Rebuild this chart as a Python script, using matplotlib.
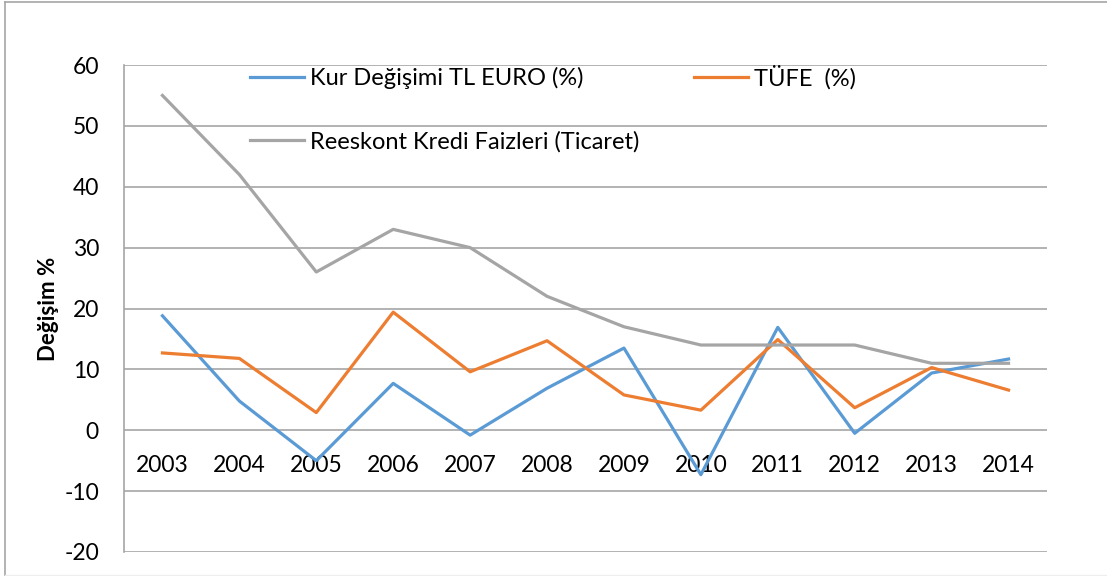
import matplotlib
matplotlib.use('Agg')
import matplotlib.pyplot as plt
from matplotlib.lines import Line2D

years = ['2003', '2004', '2005', '2006', '2007', '2008', '2009', '2010', '2011', '2012', '2013', '2014']
kur = [18.8, 4.8, -5.0, 7.7, -0.8, 6.9, 13.5, -7.3, 16.9, -0.5, 9.4, 11.7]
tufe = [12.7, 11.8, 2.9, 19.4, 9.6, 14.7, 5.8, 3.3, 14.9, 3.7, 10.3, 6.6]
reeskont = [55, 42, 26, 33, 30, 22, 17, 14, 14, 14, 11, 11]

plt.rcParams['font.family'] = ['Lato', 'DejaVu Sans']
plt.rcParams['axes.unicode_minus'] = False

fig = plt.figure(figsize=(11.07, 5.76), dpi=100)
ax = fig.add_axes([124 / 1107, 24 / 576, 923 / 1107, 487 / 576])

x = list(range(len(years)))
l1, = ax.plot(x, kur, color='#5B9BD5', lw=2.3, label='Kur Değişimi TL EURO (%)')
l2, = ax.plot(x, tufe, color='#ED7D31', lw=2.3, label='TÜFE  (%)')
l3, = ax.plot(x, reeskont, color='#A5A5A5', lw=2.3, label='Reeskont Kredi Faizleri (Ticaret)')

ax.set_xlim(-0.5, len(years) - 0.5)
ax.set_ylim(-20, 60)
ax.set_yticks(range(-20, 61, 10))
ax.grid(axis='y', color='#A6A6A6', lw=1.2)
ax.set_axisbelow(True)

for s in ['top', 'right']:
    ax.spines[s].set_visible(False)
ax.spines['left'].set_color('#A6A6A6')
ax.spines['left'].set_linewidth(1.2)
ax.spines['bottom'].set_position(('data', 0))
ax.spines['bottom'].set_visible(False)

ax.set_xticks(x)
ax.set_xticklabels(years)
ax.tick_params(axis='x', length=0, pad=18, labelsize=16.5)
ax.tick_params(axis='y', length=0, pad=18, labelsize=16.5)

ax.set_ylabel('Değişim %', fontsize=16, fontweight='bold', labelpad=4)

leg = ax.legend(handles=[l1, l3, l2], ncol=2, frameon=False, fontsize=17,
                loc='upper left', bbox_to_anchor=(250 / 1107, 1 - 65 / 576),
                bbox_transform=fig.transFigure, borderpad=0, borderaxespad=0,
                handlelength=2.3, handletextpad=0.25, labelspacing=1.75,
                columnspacing=2.3)

# chart area frame
fig.add_artist(Line2D([5 / 1107, 5 / 1107], [0, 1 - 2 / 576], color='#A6A6A6', lw=1.2))
fig.add_artist(Line2D([5 / 1107, 1], [1 - 2 / 576, 1 - 2 / 576], color='#A6A6A6', lw=1.2))
fig.add_artist(Line2D([5 / 1107, 1], [1 / 576, 1 / 576], color='#EEEEEE', lw=1))

fig.savefig('out.png', dpi=100)
